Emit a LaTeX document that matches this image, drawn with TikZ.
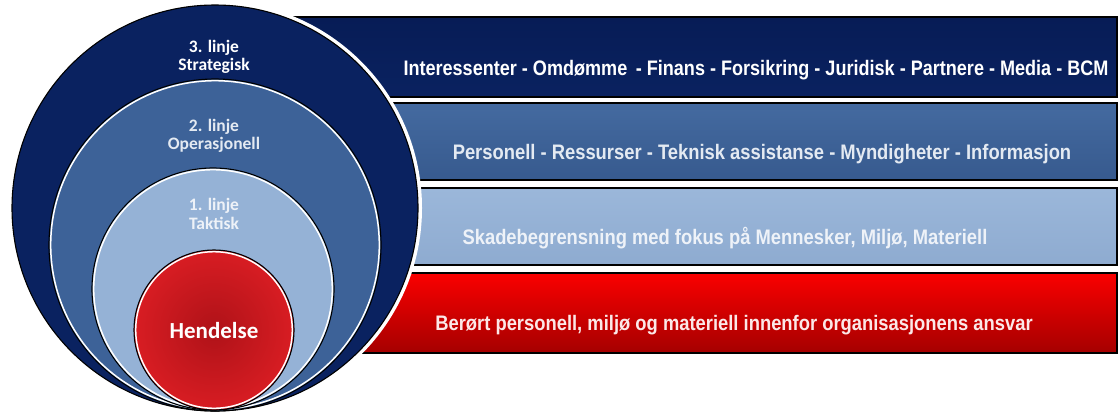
\documentclass[tikz,border=0pt]{standalone}
\usepackage{fontspec}
\setmainfont{Carlito}
\newfontfamily\barfont[FakeStretch=0.875]{Liberation Sans}
\newfontfamily\topbarfont[FakeStretch=0.86]{Liberation Sans}
\definecolor{navy}{RGB}{10,34,96}
\definecolor{navytop}{RGB}{7,28,86}
\definecolor{midblue}{RGB}{61,98,152}
\definecolor{midtop}{RGB}{68,106,160}
\definecolor{midbot}{RGB}{55,90,142}
\definecolor{lightblue}{RGB}{149,178,214}
\definecolor{lighttop}{RGB}{155,183,218}
\definecolor{lightbot}{RGB}{142,171,208}
\definecolor{bartop}{RGB}{250,0,0}
\definecolor{barbot}{RGB}{165,0,0}
\definecolor{ballred}{RGB}{228,32,38}
\definecolor{balldark}{RGB}{175,18,24}
\definecolor{txtmid}{RGB}{228,234,242}
\definecolor{txtlight}{RGB}{238,242,248}
\definecolor{txtred}{RGB}{252,232,232}
\pgfdeclareradialshading{redball}{\pgfpoint{0bp}{0bp}}{color(0bp)=(balldark); color(32bp)=(ballred); color(50bp)=(ballred!80!white)}
\tikzset{
  barshape/.style={draw=black, line width=1.6pt},
  bartext/.style={font=\barfont\bfseries\fontsize{21}{23}\selectfont, inner sep=0pt},
  ringlabel/.style={font=\bfseries\fontsize{17.5}{18.5}\selectfont, align=center, inner sep=0pt},
  ringedge/.style={draw=black, line width=1.1pt},
  ringglow/.style={draw=white, line width=1.5pt}
}
\begin{document}
\begin{tikzpicture}[x=1pt, y=-1pt]
\useasboundingbox (0,0) rectangle (1118,413);
% bars
\shade[barshape, top color=navytop, bottom color=navy] (250,17) rectangle (1117,97);
\shade[barshape, top color=midtop, bottom color=midbot] (250,103) rectangle (1117,180);
\shade[barshape, top color=lighttop, bottom color=lightbot] (250,188) rectangle (1117,265);
\shade[barshape, top color=bartop, bottom color=barbot] (250,273) rectangle (1117,353);
% outer ring
\fill[white] (215,208) circle (207);
\draw[ringedge, fill=navy] (215,208) circle (203);
% middle ring
\draw[ringedge, fill=midblue] (215,245) circle (166);
\draw[ringglow] (215,245) circle (164.3);
% inner ring
\draw[ringedge, fill=lightblue] (213,289) circle (121);
\draw[ringglow] (213,289) circle (119.3);
% event
\draw[ringedge, shading=redball] (214,330) circle (80);
\draw[ringglow] (214,330) circle (78.3);
% ring labels
\node[ringlabel, text=white] (l3) at (214,57) {3. linje\\Strategisk};
\node[ringlabel, text=txtmid] (l2) at (214,136) {2. linje\\Operasjonell};
\node[ringlabel, text=txtlight] (l1) at (214,214) {1. linje\\Taktisk};
\node[font=\bfseries\fontsize{23}{25}\selectfont, text=white, inner sep=0pt] (ev) at (214,331) {Hendelse};
% bar texts
\node[bartext, font=\topbarfont\bfseries\fontsize{21}{23}\selectfont, text=white] (b3) at (756,70) {Interessenter - Omdømme\ \,- Finans - Forsikring - Juridisk - Partnere - Media - BCM};
\node[bartext, text=txtmid] (b2) at (762,154) {Personell - Ressurser - Teknisk assistanse - Myndigheter - Informasjon};
\node[bartext, text=txtlight] (b1) at (725,238) {Skadebegrensning med fokus på Mennesker, Miljø, Materiell};
\node[bartext, text=txtred] (b0) at (734,325) {Berørt personell, miljø og materiell innenfor organisasjonens ansvar};
\end{tikzpicture}
\end{document}
